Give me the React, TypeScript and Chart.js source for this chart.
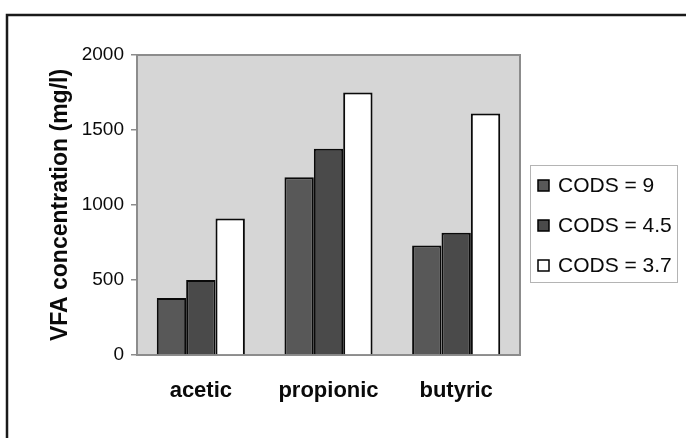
import React, { useEffect, useRef } from "react";
import { Chart, registerables } from "chart.js";

Chart.register(...registerables);

// VFA concentrations (mg/l) per acid, one series per COD/S ratio
const categories = ["acetic", "propionic", "butyric"];
const seriesLabels = ["CODS = 9", "CODS = 4.5", "CODS = 3.7"];
const cods9 = [380, 1185, 730];
const cods45 = [500, 1375, 815];
const cods37 = [910, 1750, 1610];
const yTicks = [0, 500, 1000, 1500, 2000];
const yTitle = "VFA concentration (mg/l)";

const FONT = "'Liberation Sans', Arial, Helvetica, sans-serif";
const fills = ["#585858", "#4a4a4a", "#ffffff"];

const decorPlugin = {
  id: "decor",
  beforeDraw(chart: any) {
    const { ctx, chartArea: a, width, height } = chart;
    ctx.save();
    ctx.fillStyle = "#ffffff";
    ctx.fillRect(0, 0, width, height);
    // plot background
    ctx.fillStyle = "#d6d6d6";
    ctx.fillRect(a.left, a.top, a.right - a.left, a.bottom - a.top);
    // top and right edges of the plot area
    ctx.strokeStyle = "#8c8c8c";
    ctx.lineWidth = 2;
    ctx.beginPath();
    ctx.moveTo(a.left, a.top);
    ctx.lineTo(a.right, a.top);
    ctx.lineTo(a.right, a.bottom);
    ctx.stroke();
    // outer chart frame
    ctx.strokeStyle = "#1a1a1a";
    ctx.lineWidth = 2.5;
    ctx.strokeRect(7, 15, width + 20, height + 20);
    ctx.restore();
  },
  afterDraw(chart: any) {
    const { ctx, chartArea: a } = chart;
    const boxLeft = a.right + 10;
    const boxTop = a.top + 110;
    const boxW = 147;
    const boxH = 117;
    ctx.save();
    ctx.fillStyle = "#ffffff";
    ctx.fillRect(boxLeft, boxTop, boxW, boxH);
    ctx.strokeStyle = "#b4b4b4";
    ctx.lineWidth = 1;
    ctx.strokeRect(boxLeft + 0.5, boxTop + 0.5, boxW, boxH);
    ctx.font = `21px ${FONT}`;
    ctx.textBaseline = "middle";
    ctx.textAlign = "left";
    chart.data.datasets.forEach((ds: any, i: number) => {
      const cy = boxTop + 20 + i * 40;
      const mx = boxLeft + 8;
      ctx.fillStyle = ds.backgroundColor;
      ctx.fillRect(mx, cy - 5, 11, 11);
      ctx.strokeStyle = "#000000";
      ctx.lineWidth = 1.5;
      ctx.strokeRect(mx, cy - 5, 11, 11);
      ctx.fillStyle = "#0a0a0a";
      ctx.fillText(ds.label, boxLeft + 28, cy + 1);
    });
    ctx.restore();
  },
};

export default function App() {
  const canvasRef = useRef<HTMLCanvasElement | null>(null);

  useEffect(() => {
    if (!canvasRef.current) return;
    const series = [cods9, cods45, cods37];
    const chart = new Chart(canvasRef.current, {
      type: "bar",
      data: {
        labels: categories,
        datasets: series.map((values, i) => ({
          label: seriesLabels[i],
          data: values,
          backgroundColor: fills[i],
          borderColor: "#0a0a0a",
          borderWidth: 2,
          categoryPercentage: 0.69,
          barPercentage: 1.0,
        })),
      },
      options: {
        responsive: false,
        animation: false,
        devicePixelRatio: 1,
        layout: { padding: { left: 40, top: 55, right: 166, bottom: 0 } },
        plugins: {
          legend: { display: false },
          tooltip: { enabled: false },
        },
        scales: {
          x: {
            grid: { display: true, drawOnChartArea: false, drawTicks: false },
            border: { display: true, color: "#8c8c8c", width: 2 },
            ticks: {
              color: "#0a0a0a",
              padding: 23,
              font: { family: FONT, size: 22, weight: "bold" },
            },
            afterFit(scale: any) {
              scale.height = 83;
            },
          },
          y: {
            min: 0,
            max: 2000,
            afterBuildTicks(scale: any) {
              scale.ticks = yTicks.map((v) => ({ value: v }));
            },
            grid: {
              display: true,
              drawOnChartArea: false,
              drawTicks: true,
              tickLength: 6,
              color: "#8c8c8c",
              lineWidth: 1.5,
            },
            border: { display: true, color: "#8c8c8c", width: 2 },
            ticks: {
              color: "#0a0a0a",
              padding: 7,
              font: { family: FONT, size: 19 },
              callback: (v: any) => String(v),
            },
            title: {
              display: true,
              text: yTitle,
              color: "#0a0a0a",
              padding: { top: 7, bottom: 0 },
              font: { family: FONT, size: 23, weight: "bold" },
            },
            afterFit(scale: any) {
              scale.width = 97;
            },
          },
        },
      },
      plugins: [decorPlugin],
    });
    return () => chart.destroy();
  }, []);

  return (
    <div style={{ position: "fixed", left: 0, top: 0, width: 686, height: 438 }}>
      <canvas ref={canvasRef} width={686} height={438} />
    </div>
  );
}
